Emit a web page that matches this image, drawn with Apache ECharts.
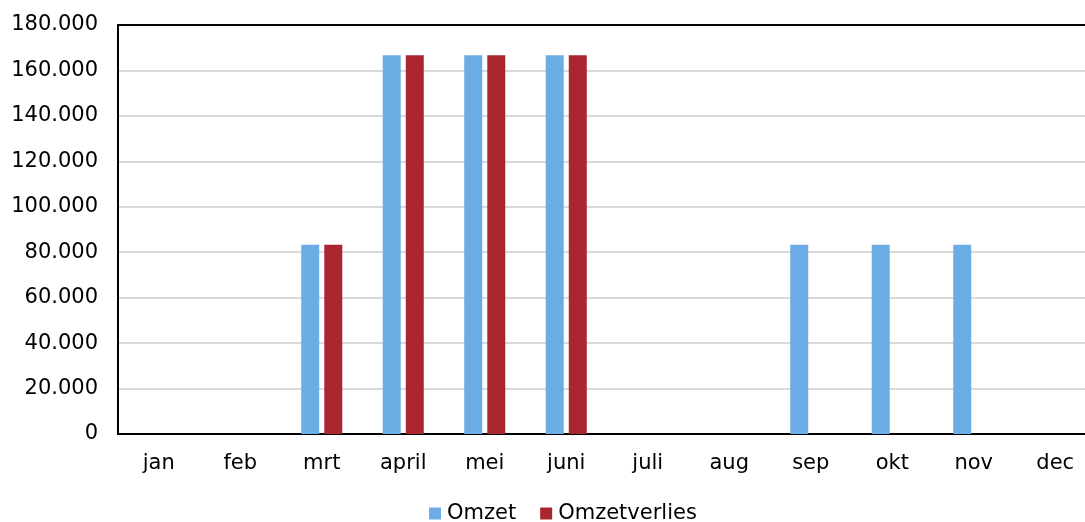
<!DOCTYPE html>
<html>
<head>
<meta charset="utf-8">
<script src="https://cdn.jsdelivr.net/npm/echarts@6/dist/echarts.min.js"></script>
<style>html,body{margin:0;padding:0;background:#fff}#c{width:1085px;height:522px}</style>
</head>
<body>
<div id="c"></div>
<script>
const categories = ['jan','feb','mrt','april','mei','juni','juli','aug','sep','okt','nov','dec'];
const omzet = [0, 0, 83333, 166667, 166667, 166667, 0, 0, 83333, 83333, 83333, 0];
const omzetverlies = [0, 0, 83333, 166667, 166667, 166667, 0, 0, 0, 0, 0, 0];
const seriesNames = ['Omzet', 'Omzetverlies'];

const font = '"DejaVu Sans", Verdana, sans-serif';
const chart = echarts.init(document.getElementById('c'), null, {renderer: 'canvas'});
chart.setOption({
  animation: false,
  grid: {left: 118, width: 978, top: 25, bottom: 88, outerBoundsMode: 'none', containLabel: false},
  legend: {
    bottom: -7, left: 424, itemWidth: 12, itemHeight: 12, itemGap: 24,
    icon: 'rect',
    textStyle: {fontFamily: font, fontSize: 21, color: '#000', padding: [0, 0, 0, 1]},
    data: seriesNames
  },
  xAxis: [{
    type: 'category', data: categories, position: 'bottom',
    axisLine: {lineStyle: {color: '#000', width: 2}},
    axisTick: {show: false},
    axisLabel: {fontFamily: font, fontSize: 21, color: '#000', margin: 19}
  }, {
    type: 'category', data: categories, position: 'top',
    axisLine: {show: true, lineStyle: {color: '#000', width: 2}},
    axisTick: {show: false},
    axisLabel: {show: false},
    splitLine: {show: false}
  }],
  yAxis: {
    type: 'value', min: 0, max: 180000, interval: 20000,
    axisLine: {show: true, lineStyle: {color: '#000', width: 2}},
    axisTick: {show: false},
    splitLine: {lineStyle: {color: '#d9d9d9', width: 2}},
    axisLabel: {
      fontFamily: font, fontSize: 21, color: '#000', margin: 20,
      formatter: v => v === 0 ? '0' : v.toLocaleString('nl-NL')
    }
  },
  series: [
    {name: seriesNames[0], type: 'bar', data: omzet, barWidth: 18, barGap: '28%',
     itemStyle: {color: '#6CACE4'}},
    {name: seriesNames[1], type: 'bar', data: omzetverlies, barWidth: 18,
     itemStyle: {color: '#A9262F'}}
  ]
});
</script>
</body>
</html>
